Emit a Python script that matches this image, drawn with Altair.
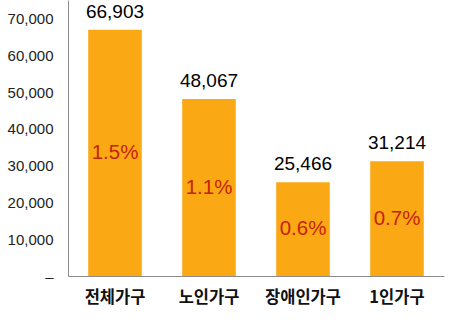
import altair as alt
import pandas as pd

categories = ["전체가구", "노인가구", "장애인가구", "1인가구"]
values = [66903, 48067, 25466, 31214]
percents = ["1.5%", "1.1%", "0.6%", "0.7%"]
y_ticks = [0, 10000, 20000, 30000, 40000, 50000, 60000, 70000]

df = pd.DataFrame({"cat": categories, "value": values, "pct": percents})

x_scale = alt.Scale(paddingInner=0.43, paddingOuter=0.215)
x_axis = alt.Axis(labelAngle=0, labelFont="Noto Sans CJK KR", labelFontWeight="bold",
                  labelFontSize=16.5, labelColor="#111111", labelPadding=13,
                  ticks=False, domainColor="#8c8c8c", domainWidth=1)
y_scale = alt.Scale(domain=[0, 75000], nice=False)
y_axis = alt.Axis(values=y_ticks, grid=False, ticks=False, labelOverlap=False,
                  labelExpr="datum.value == 0 ? '–' : format(datum.value, ',')",
                  labelFont="Liberation Sans", labelFontSize=15,
                  labelColor="#222222", labelPadding=15,
                  domainColor="#8c8c8c", domainWidth=1)

def X():
    return alt.X("cat:N", sort=categories, title=None, scale=x_scale, axis=x_axis)

def Y(field):
    return alt.Y(field, scale=y_scale, title=None, axis=y_axis)

base = alt.Chart(df)

bars = base.mark_bar(color="#FBA815").encode(x=X(), y=Y("value:Q"))

val_text = base.mark_text(font="Liberation Sans", fontSize=19, color="#000000",
                          dy=-18, baseline="middle").encode(
    x=X(), y=Y("value:Q"),
    text=alt.Text("value:Q", format=","),
)

pct_text = base.transform_calculate(mid="datum.value / 2").mark_text(
    font="Liberation Sans", fontSize=20.5, color="#C4240C", baseline="middle").encode(
    x=X(), y=Y("mid:Q"),
    text="pct:N",
)

chart = (bars + val_text + pct_text).properties(
    width=376, height=276,
    autosize=alt.AutoSizeParams(type="none"),
    padding={"left": 68, "top": 0, "right": 8, "bottom": 44},
    background="white",
).configure_view(stroke=None)

chart.save("out.html", embed_options={"renderer": "svg", "actions": False})
